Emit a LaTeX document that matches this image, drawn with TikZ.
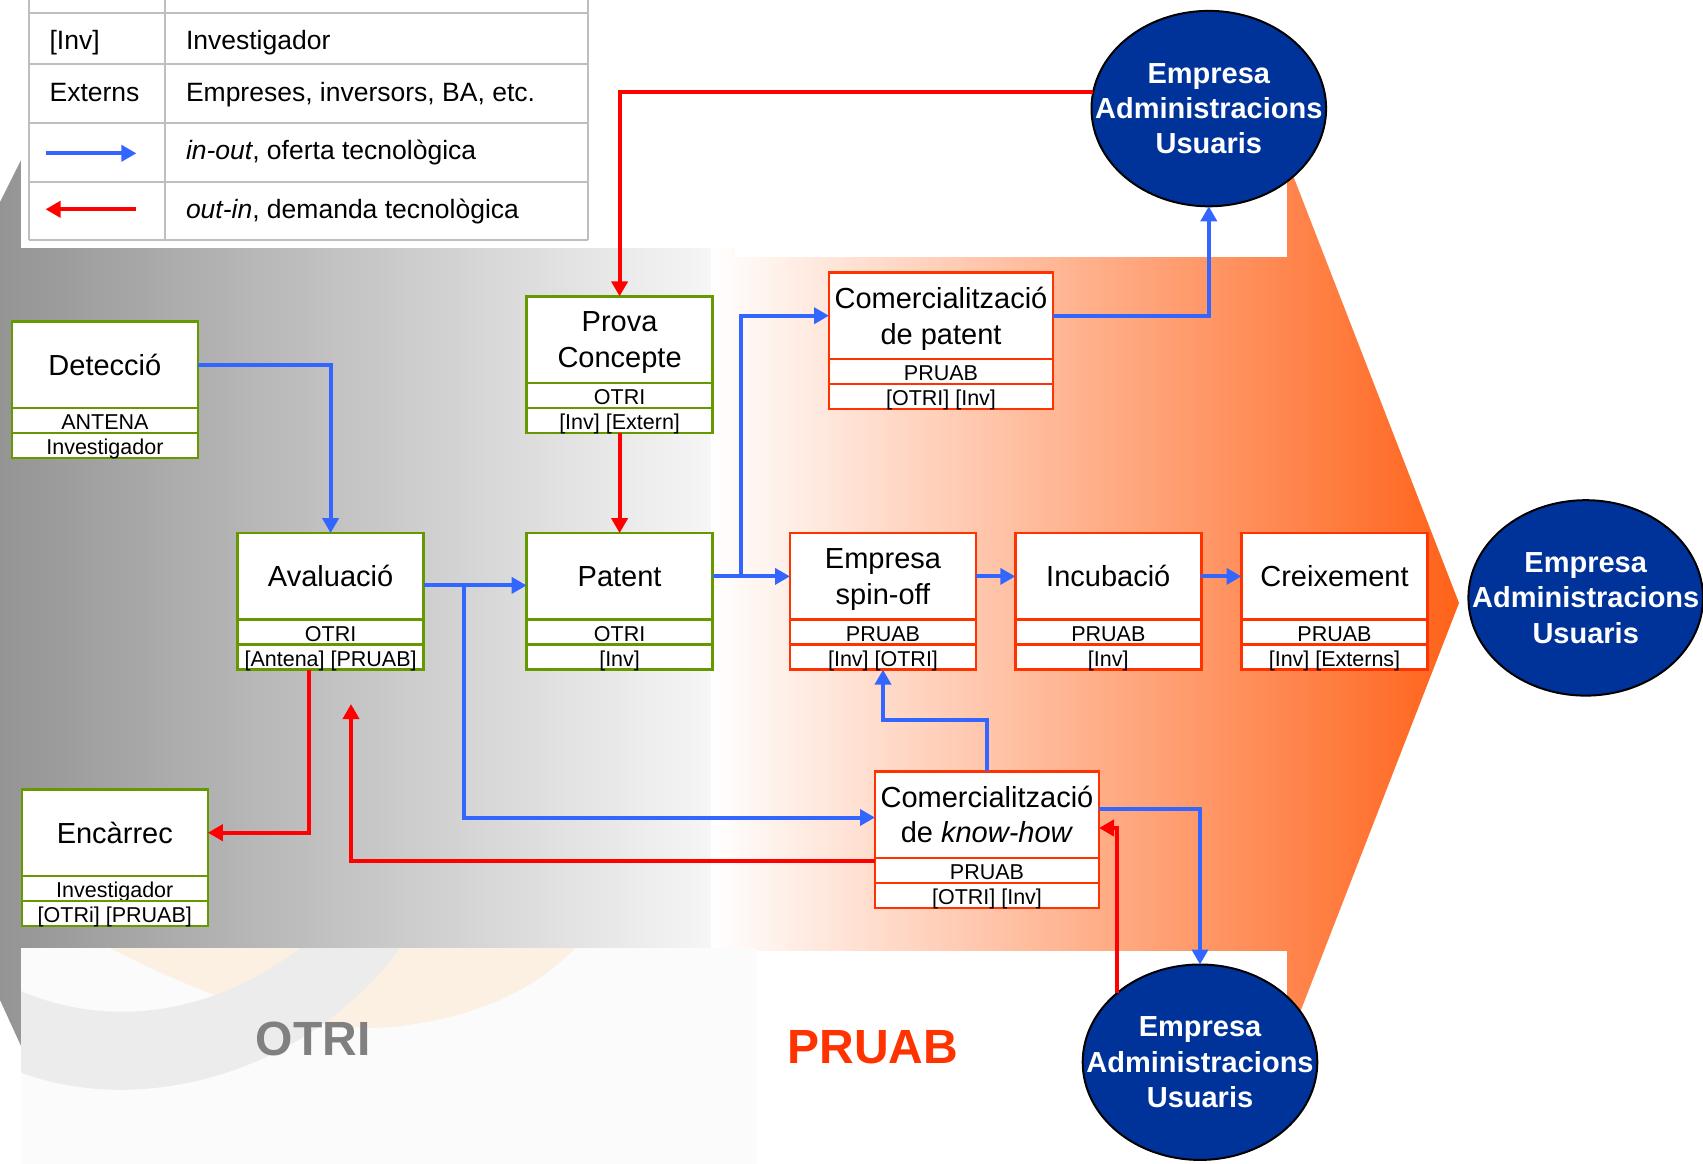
\documentclass[tikz,border=0pt]{standalone}
\usepackage{fontspec}
\setmainfont{Liberation Sans}
\usetikzlibrary{arrows.meta,shapes.geometric}
\definecolor{otgreen}{RGB}{102,153,0}
\definecolor{prorange}{RGB}{255,51,0}
\definecolor{arrblue}{RGB}{51,102,255}
\definecolor{arrred}{RGB}{255,0,0}
\definecolor{circblue}{RGB}{0,51,153}
\definecolor{leggrey}{RGB}{190,190,190}
\definecolor{bgl}{RGB}{148,148,148}
\definecolor{bgr}{RGB}{246,246,246}
\definecolor{orng}{RGB}{255,98,25}
\definecolor{peach}{RGB}{251,240,226}
\definecolor{wmgrey}{RGB}{236,236,236}
\definecolor{bgw}{RGB}{251,251,251}
\definecolor{otrigrey}{RGB}{128,128,128}
\tikzset{
  ttl/.style={draw, line width=2.5pt, fill=white, minimum height=86.5pt, inner sep=0pt,
    outer sep=0pt, align=center, font=\fontsize{29}{35.5}\selectfont},
  rowb/.style={draw, line width=2.5pt, fill=white, minimum height=25pt, inner sep=0pt,
    outer sep=0pt, anchor=north, font=\fontsize{21.5}{25}\selectfont, text height=18pt, text depth=0pt},
  ot/.style={draw=otgreen, minimum width=186pt},
  pr/.style={draw=prorange, minimum width=186pt},
  prw/.style={draw=prorange, minimum width=224pt},
  circ/.style={ellipse, draw=black, line width=2pt, fill=circblue, minimum width=234.6pt,
    minimum height=195.4pt, inner sep=0pt, outer sep=0pt},
  ctext/.style={text=white, font=\bfseries\fontsize{29}{35.3}\selectfont, align=center, inner sep=0pt},
  legtext/.style={anchor=base west, inner sep=0pt, font=\fontsize{26.5}{30}\selectfont},
  biglab/.style={anchor=base, inner sep=0pt, font=\bfseries\fontsize{48}{48}\selectfont},
  tip/.style={-{Triangle[length=15pt,width=16pt]}},
  ba/.style={draw=arrblue, line width=4pt, tip},
  ra/.style={draw=arrred, line width=4pt, tip},
}
\begin{document}
\begin{tikzpicture}[x=1pt,y=-1pt]
\useasboundingbox (0,0) rectangle (1703,1164);
% ---------- background ----------
\fill[white] (0,0) rectangle (1703,1164);
\shade[left color=bgl, right color=bgr] (0,202) -- (21,160) -- (711,160) -- (711,1046) -- (21,1046) -- (0,1000) -- cycle;
\shade[left color=white, right color=orng] (711,160) -- (1287,160) -- (1459,603) -- (1287,1046) -- (711,1046) -- cycle;
\fill[white] (21,0) rectangle (735,248);
\fill[white] (735,0) rectangle (1287,257);
\fill[bgw] (21,948) rectangle (757,1164);
\fill[white] (757,951) rectangle (1287,1164);
\begin{scope}
  \clip (21,948) rectangle (757,1164);
  \fill[peach] (110,948) .. controls (230,1010) and (330,1035) .. (400,1026)
     .. controls (470,1017) and (530,995) .. (575,948) -- cycle;
  \fill[wmgrey] (-10,975) .. controls (80,1030) and (200,1025) .. (300,948) -- (400,948)
     .. controls (300,1085) and (110,1125) .. (-10,1058) -- cycle;
\end{scope}
% ---------- legend ----------
\draw[leggrey, line width=2pt] (28.5,0) -- (28.5,240) (164.5,0) -- (164.5,240) (588,0) -- (588,240);
\draw[leggrey, line width=2pt] (28.5,13.3) -- (588,13.3) (28.5,64.3) -- (588,64.3)
   (28.5,122.7) -- (588,122.7) (28.5,181.7) -- (588,181.7) (28.5,240) -- (588,240);
\node[legtext] (l1a) at (49.4,50) {[Inv]};
\node[legtext] (l1b) at (185.8,50) {Investigador};
\node[legtext] (l2a) at (49.4,101) {Externs};
\node[legtext] (l2b) at (185.8,101) {Empreses, inversors, BA, etc.};
\node[legtext] (l3b) at (185.8,159.5) {\textit{in-out}, oferta tecnològica};
\node[legtext] (l4b) at (185.8,218) {\textit{out-in}, demanda tecnològica};
\coordinate (lb1) at (45.5,153.3); \coordinate (lb2) at (136.4,153.3);
\coordinate (lr1) at (136.4,209.3); \coordinate (lr2) at (45.5,209.3);
\draw[ba] (lb1) -- (lb2);
\draw[ra] (lr1) -- (lr2);
% ---------- region labels ----------
\node[biglab, text=otrigrey] (otrilab) at (313.3,1055) {OTRI};
\node[biglab, text=prorange] (pruablab) at (872.7,1063.3) {PRUAB};
% ---------- circles ----------
\node[circ] (top) at (1208.8,108.6) {};
\node[ctext] (toptx) at (top) {Empresa\\Administracions\\Usuaris};
\node[circ] (rgt) at (1585.7,597.9) {};
\node[ctext] (rgttx) at (rgt) {Empresa\\Administracions\\Usuaris};
\node[circ] (bot) at (1200,1062.2) {};
\node[ctext] (bottx) at (bot) {Empresa\\Administracions\\Usuaris};
% ---------- OTRI boxes ----------
\node[ttl,ot] (det) at (104.9,364.6) {Detecció};
\node[rowb,ot] (det1) at (det.south) {ANTENA};
\node[rowb,ot] (det2) at (det1.south) {Investigador};
\node[ttl,ot] (prova) at (619.6,339.6) {Prova\\\smash{Concepte}};
\node[rowb,ot] (prova1) at (prova.south) {OTRI};
\node[rowb,ot] (prova2) at (prova1.south) {[Inv] [Extern]};
\node[ttl,ot] (aval) at (330.6,576.4) {Avaluació};
\node[rowb,ot] (aval1) at (aval.south) {OTRI};
\node[rowb,ot] (aval2) at (aval1.south) {[Antena] [PRUAB]};
\node[ttl,ot] (pat) at (619.6,576.4) {Patent};
\node[rowb,ot] (pat1) at (pat.south) {OTRI};
\node[rowb,ot] (pat2) at (pat1.south) {[Inv]};
\node[ttl,ot] (enc) at (114.8,832.7) {Encàrrec};
\node[rowb,ot] (enc1) at (enc.south) {Investigador};
\node[rowb,ot] (enc2) at (enc1.south) {[OTRi] [PRUAB]};
% ---------- PRUAB boxes ----------
\node[ttl,prw] (cp) at (941,315.7) {Comercialització\\\smash{de patent}};
\node[rowb,prw] (cp1) at (cp.south) {PRUAB};
\node[rowb,prw] (cp2) at (cp1.south) {[OTRI] [Inv]};
\node[ttl,pr] (spin) at (883,576.4) {Empresa\\\smash{spin-off}};
\node[rowb,pr] (spin1) at (spin.south) {PRUAB};
\node[rowb,pr] (spin2) at (spin1.south) {[Inv] [OTRI]};
\node[ttl,pr] (inc) at (1108.3,576.4) {Incubació};
\node[rowb,pr] (inc1) at (inc.south) {PRUAB};
\node[rowb,pr] (inc2) at (inc1.south) {[Inv]};
\node[ttl,pr] (cre) at (1334.5,576.4) {Creixement};
\node[rowb,pr] (cre1) at (cre.south) {PRUAB};
\node[rowb,pr] (cre2) at (cre1.south) {[Inv] [Externs]};
\node[ttl,prw] (kh) at (987,814.5) {Comercialització\\de \textit{know-how}};
\node[rowb,prw] (kh1) at (kh.south) {PRUAB};
\node[rowb,prw] (kh2) at (kh1.south) {[OTRI] [Inv]};
\coordinate (avret) at (351,704);
% ---------- blue connectors (in-out) ----------
\draw[ba] (det.east) -| (aval.north);
\draw[ba] ([yshift=-9pt]aval.east) -- ([yshift=-9pt]pat.west);
\draw[ba] ([yshift=-9pt,xshift=40pt]aval.east) |- ([yshift=-3pt]kh.west);
\draw[ba] (pat.east) -- (spin.west);
\draw[ba] ([xshift=28.5pt]pat.east) |- (cp.west);
\draw[ba] (spin.east) -- (inc.west);
\draw[ba] (inc.east) -- (cre.west);
\draw[ba] (cp.east) -| (top.south);
\draw[ba] (kh.north) -- ++(0,-51) -| (spin2.south);
\draw[ba] ([yshift=5.5pt]kh.east) -| (bot.north);
% ---------- red connectors (out-in) ----------
\draw[ra] (top.172) -| (prova.north);
\draw[ra] (prova2.south) -- (pat.north);
\draw[ra] ([xshift=-22pt]aval2.south) |- (enc.east);
\draw[ra] ([yshift=-46.5pt]kh.west) -| (avret);
\draw[ra] (bot.140) |- ([yshift=-13.5pt]kh.east);
\end{tikzpicture}
\end{document}
